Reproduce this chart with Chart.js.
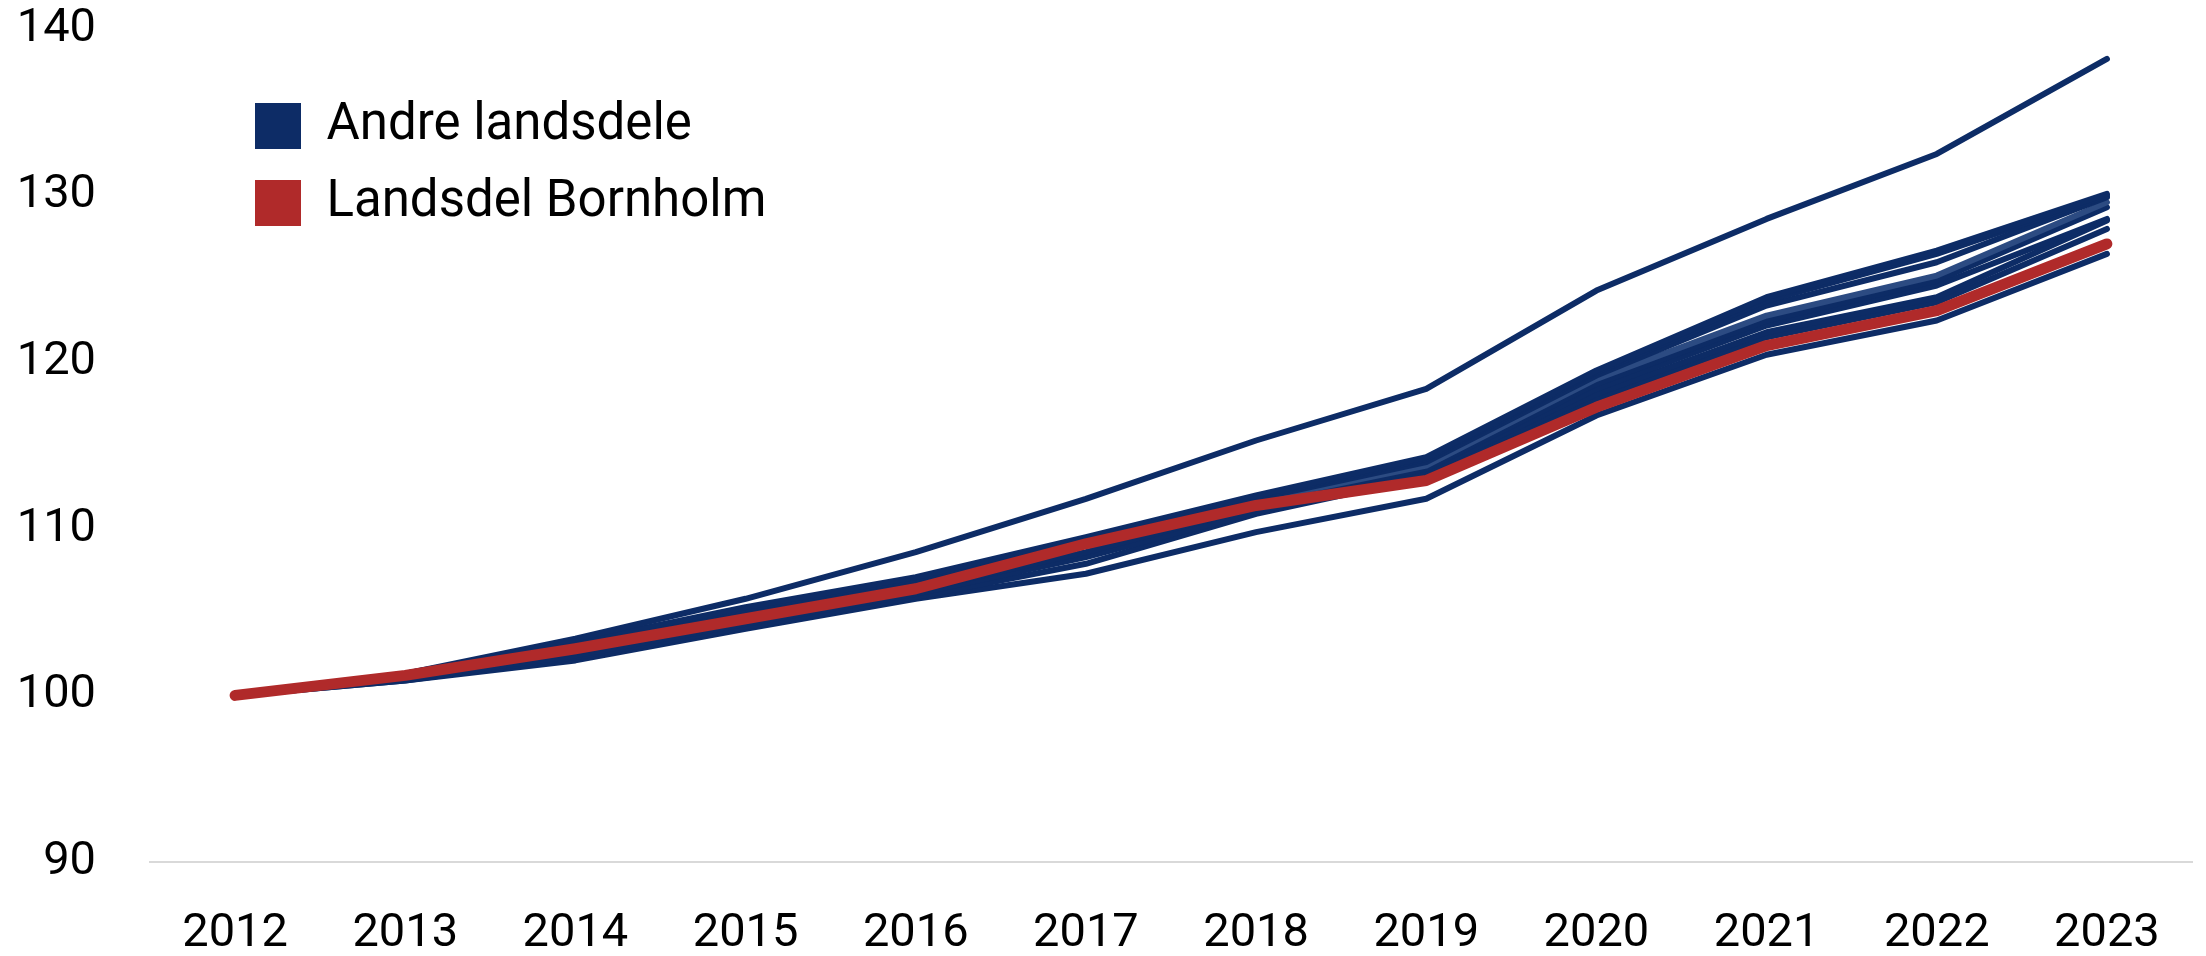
<!DOCTYPE html>
<html>
<head>
<meta charset="utf-8">
<script src="https://cdn.jsdelivr.net/npm/chart.js@4/dist/chart.umd.min.js"></script>
<style>
  html, body { margin: 0; padding: 0; background: #ffffff; }
  #wrap { width: 2206px; height: 956px; }
</style>
</head>
<body>
<div id="wrap"><canvas id="c" width="2206" height="956"></canvas></div>
<script>
const years = ['2012','2013','2014','2015','2016','2017','2018','2019','2020','2021','2022','2023'];
const yTicks = [90, 100, 110, 120, 130, 140];

const byenKobenhavn   = [100, 101.3, 103.4, 105.8, 108.6, 111.8, 115.3, 118.4, 124.3, 128.6, 132.5, 138.2];
const kobenhavnsOmegn = [100, 101.3, 103.2, 105.3, 107.1, 109.5, 112.0, 114.3, 119.5, 123.9, 126.7, 130.1];
const nordsjaelland   = [100, 101.3, 103.1, 105.2, 107.0, 109.4, 111.9, 114.2, 119.4, 123.7, 126.5, 130.0];
const ostsjaelland    = [100, 101.2, 103.0, 105.0, 106.9, 109.3, 111.8, 114.0, 119.2, 123.4, 126.0, 129.9];
const vestSydsjaelland= [100, 101.2, 102.9, 104.9, 106.7, 109.2, 111.7, 113.8, 119.0, 122.8, 125.2, 129.6];
const fyn             = [100, 101.1, 102.8, 104.7, 106.5, 109.0, 111.6, 113.6, 118.7, 122.5, 124.9, 129.3];
const sydjylland      = [100, 101.1, 102.6, 104.5, 106.3, 108.6, 111.3, 113.4, 118.4, 122.2, 124.6, 128.6];
const ostjylland      = [100, 101.0, 102.4, 104.3, 106.1, 108.3, 111.0, 113.3, 118.1, 121.8, 123.9, 128.5];
const vestjylland     = [100, 100.9, 102.3, 104.1, 105.9, 107.9, 110.9, 113.1, 117.8, 121.5, 123.6, 128.0];
const nordjylland     = [100, 100.9, 102.1, 104.0, 105.8, 107.3, 109.8, 111.8, 116.8, 120.45, 122.5, 126.5];
const bornholm        = [100, 101.2, 102.8, 104.6, 106.4, 109.1, 111.4, 112.9, 117.3, 121.0, 123.1, 127.1];

const legendLabels = ['Andre landsdele', 'Landsdel Bornholm'];

const BLUE = '#0d2c66';
const BLUE_LIGHT = '#2c4b82';
const RED = '#b02a2a';

const others = [
  ['Byen København', byenKobenhavn, BLUE],
  ['Københavns omegn', kobenhavnsOmegn, BLUE],
  ['Nordsjælland', nordsjaelland, BLUE],
  ['Østsjælland', ostsjaelland, BLUE],
  ['Vest- og Sydsjælland', vestSydsjaelland, BLUE_LIGHT],
  ['Fyn', fyn, BLUE],
  ['Sydjylland', sydjylland, BLUE],
  ['Østjylland', ostjylland, BLUE],
  ['Vestjylland', vestjylland, BLUE],
  ['Nordjylland', nordjylland, BLUE]
];

const datasets = [{
  label: 'Landsdel Bornholm',
  data: bornholm,
  borderColor: RED,
  backgroundColor: RED,
  borderWidth: 11,
  borderCapStyle: 'round',
  borderJoinStyle: 'round',
  pointRadius: 0,
  tension: 0,
  order: 0
}];
others.forEach(([name, vals, col]) => {
  datasets.push({
    label: name,
    data: vals,
    borderColor: col,
    backgroundColor: col,
    borderWidth: 6,
    borderCapStyle: 'round',
    borderJoinStyle: 'round',
    pointRadius: 0,
    tension: 0,
    order: 1
  });
});

const legendPlacer = {
  id: 'legendPlacer',
  beforeDraw(chart) {
    const l = chart.legend;
    if (!l) return;
    l.left = 229;
    l.top = 74.5;
    l.right = 229 + l.width;
    l.bottom = 74.5 + 600;
  }
};

function build() {
  new Chart(document.getElementById('c'), {
    type: 'line',
    data: { labels: years, datasets },
    options: {
      responsive: false,
      animation: false,
      events: [],
      layout: { padding: { top: 29, right: 14, left: 0, bottom: 0 } },
      plugins: {
        tooltip: { enabled: false },
        legend: {
          position: 'chartArea',
          align: 'start',
          labels: {
            boxWidth: 46,
            boxHeight: 46,
            padding: 26,
            color: '#000000',
            font: { family: 'Roboto', size: 51, weight: '400' },
            generateLabels() {
              return [
                { text: legendLabels[0], fillStyle: BLUE, strokeStyle: BLUE, lineWidth: 0, hidden: false, fontColor: '#000000', datasetIndex: 1 },
                { text: legendLabels[1], fillStyle: RED, strokeStyle: RED, lineWidth: 0, hidden: false, fontColor: '#000000', datasetIndex: 0 }
              ];
            }
          }
        }
      },
      scales: {
        x: {
          offset: true,
          grid: { display: false, drawTicks: false },
          border: { display: true, color: '#d9d9d9', width: 2 },
          ticks: {
            color: '#000000',
            padding: 44,
            maxRotation: 0,
            autoSkip: false,
            font: { family: 'Roboto', size: 47, weight: '400' }
          },
          afterFit(s) { s.height = 94; s.paddingLeft = 0; s.paddingRight = 0; }
        },
        y: {
          min: 90,
          max: 140,
          afterBuildTicks(s) { s.ticks = yTicks.map(v => ({ value: v })); },
          grid: { display: false, drawTicks: false },
          border: { display: false },
          ticks: {
            color: '#000000',
            padding: 54,
            font: { family: 'Roboto', size: 47, weight: '400' }
          },
          afterFit(s) { s.width = 150; s.paddingTop = 0; s.paddingBottom = 0; }
        }
      }
    },
    plugins: [legendPlacer]
  });
}

if (document.fonts && document.fonts.load) {
  Promise.all([
    document.fonts.load('47px Roboto'),
    document.fonts.load('51px Roboto')
  ]).then(build, build);
} else {
  build();
}
</script>
</body>
</html>
